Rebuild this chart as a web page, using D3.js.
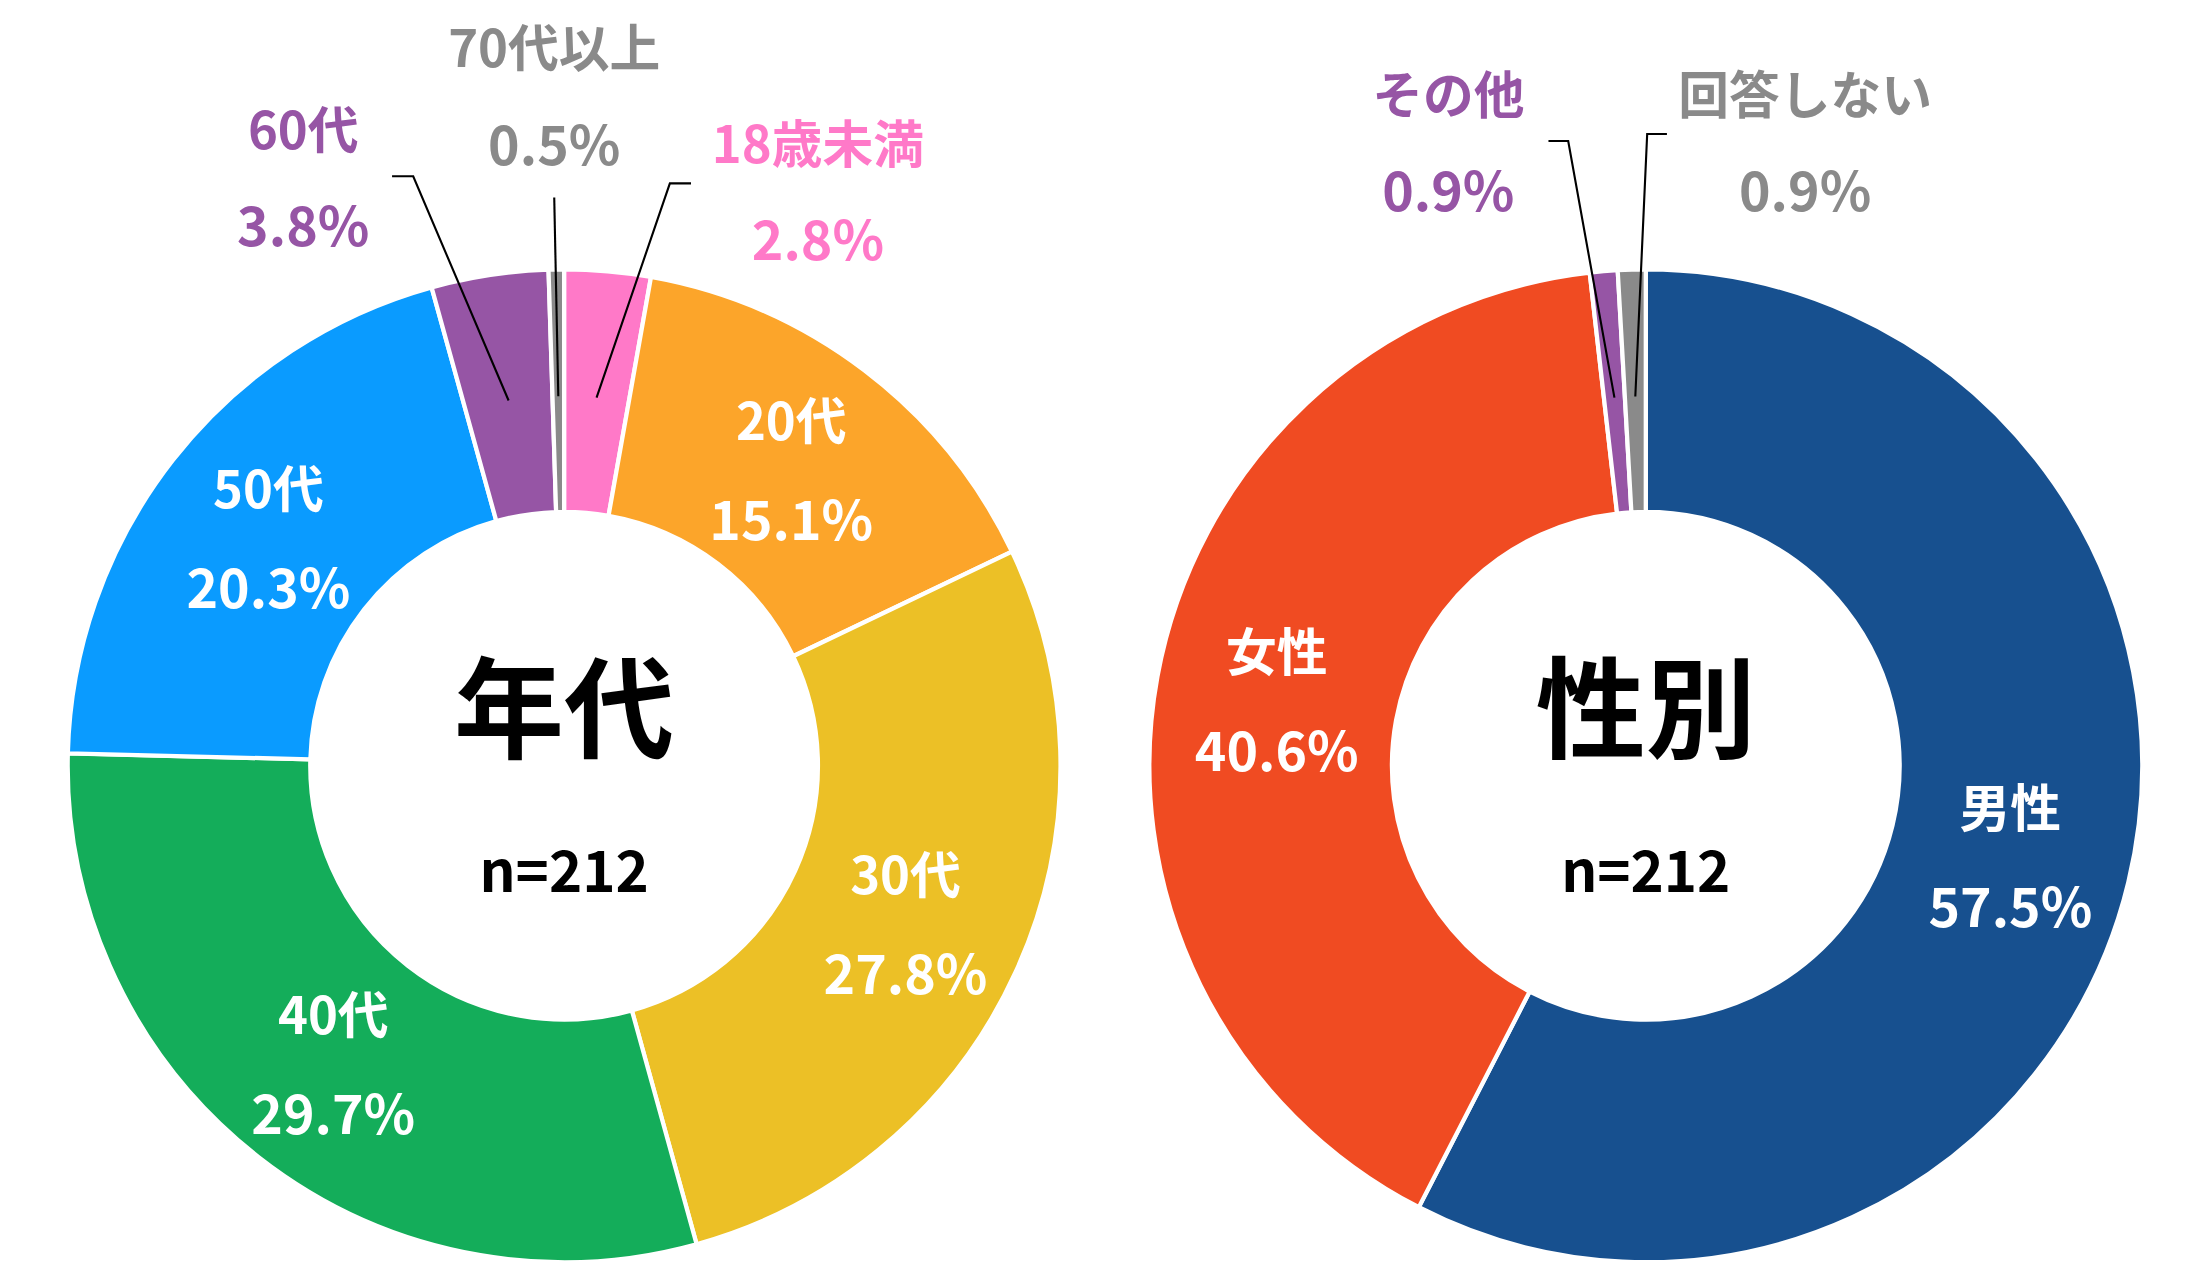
<!DOCTYPE html>
<html><head><meta charset="utf-8">
<script src="https://cdn.jsdelivr.net/npm/d3@7"></script>
<style>body{margin:0;background:#fff}text{font-family:"Noto Sans CJK JP",sans-serif;font-weight:bold}</style>
</head><body><svg id="c" width="2200" height="1274"></svg>
<script>
// age groups
var ageLabels = ['18歳未満','20代','30代','40代','50代','60代','70代以上']
var ageValues = [2.8, 15.1, 27.8, 29.7, 20.3, 3.8, 0.5]
var ageColors = ['#ff79c8','#fca52a','#ecc026','#14ad5a','#0a9bff','#9655a5','#8a8a8a']
// gender
var sexLabels = ['男性','女性','その他','回答しない']
var sexValues = [57.5, 40.6, 0.9, 0.9]
var sexColors = ['#17508f','#f04b22','#9655a5','#8a8a8a']

// outside label layout: index -> [textX, textY, elbowX1, elbowX2, elbowY]
var ageOut = {0:[580,100,490,475,130], 5:[215,90,278,293,125], 6:[393,32,393,393,140]}
var sexOut = {2:[1027,65,1098,1112,100], 3:[1280,65,1182,1168,95]}

var svg = d3.select('#c')
var root = svg.append('g').attr('transform','scale(' + (2200/1560) + ')')

function donut(cx, cy, labels, values, colors, out, title){
  var g = root.append('g').attr('transform','translate(' + cx + ',' + cy + ')')
  var pie = d3.pie().sort(null)
  var arcs = pie(values)
  var R = 352, r = 180
  var arc = d3.arc().innerRadius(r).outerRadius(R)
  g.selectAll('path').data(arcs).enter().append('path')
    .attr('d', arc).attr('fill', function(d,i){return colors[i]})
    .attr('stroke','#fff').attr('stroke-width',3)
  var mid = d3.arc().innerRadius(266).outerRadius(266)
  arcs.forEach(function(d,i){
    var p = mid.centroid(d)
    if (out[i]) {
      var o = out[i]
      var col = colors[i]
      g.append('text').attr('x',o[0]-cx).attr('y',o[1]-cy).attr('text-anchor','middle')
        .attr('dominant-baseline','central').attr('font-size',36).attr('fill',col).text(labels[i])
      g.append('text').attr('x',o[0]-cx).attr('y',o[1]+68-cy).attr('text-anchor','middle')
        .attr('dominant-baseline','central').attr('font-size',38).attr('fill',col).text(values[i].toFixed(1)+'%')
      var a = (d.startAngle + d.endAngle)/2
      var ex = Math.sin(a)*262, ey = -Math.cos(a)*262
      g.append('polyline').attr('fill','none').attr('stroke','#000').attr('stroke-width',1.5)
        .attr('points',[[o[2]-cx,o[4]-cy],[o[3]-cx,o[4]-cy],[ex,ey]].join(' '))
    } else {
      g.append('text').attr('x',p[0]).attr('y',p[1]-35).attr('text-anchor','middle')
        .attr('dominant-baseline','central').attr('font-size',36).attr('fill','#fff').text(labels[i])
      g.append('text').attr('x',p[0]).attr('y',p[1]+35).attr('text-anchor','middle')
        .attr('dominant-baseline','central').attr('font-size',38).attr('fill','#fff').text(values[i].toFixed(1)+'%')
    }
  })
  g.append('text').attr('y',-45).attr('text-anchor','middle').attr('dominant-baseline','central')
    .attr('font-size',78).attr('fill','#000').text(title)
  g.append('text').attr('y',72).attr('text-anchor','middle').attr('dominant-baseline','central')
    .attr('font-size',40).attr('fill','#000').text('n=212')
}

donut(400, 543, ageLabels, ageValues, ageColors, ageOut, '年代')
donut(1167, 543, sexLabels, sexValues, sexColors, sexOut, '性別')
</script></body></html>
